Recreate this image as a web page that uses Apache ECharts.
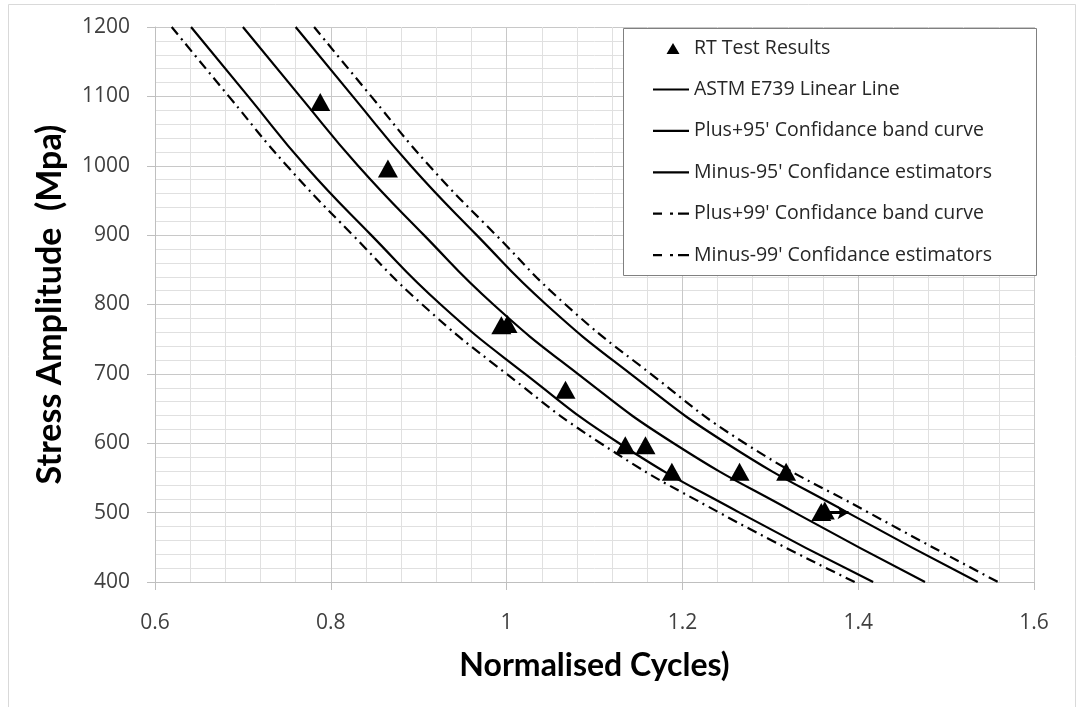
<!DOCTYPE html>
<html>
<head>
<meta charset="utf-8">
<script src="https://cdn.jsdelivr.net/npm/echarts@6/dist/echarts.min.js"></script>
<style>
html,body{margin:0;padding:0;background:#fff;}
#chart{width:1080px;height:707px;}
</style>
</head>
<body>
<div id="chart"></div>
<script>
// Stress levels (MPa) at which each curve was read
const stressLevels = [1200, 1100, 1000, 900, 800, 700, 600, 500, 400];
// Normalised cycles for each curve at those stress levels
const astmLinear   = [0.700, 0.765, 0.831, 0.906, 0.985, 1.081, 1.190, 1.328, 1.476];
const plus95       = [0.760, 0.825, 0.891, 0.966, 1.045, 1.141, 1.250, 1.388, 1.536];
const minus95      = [0.641, 0.706, 0.771, 0.846, 0.925, 1.021, 1.128, 1.265, 1.417];
const plus99       = [0.781, 0.846, 0.912, 0.988, 1.067, 1.164, 1.271, 1.412, 1.559];
const minus99      = [0.619, 0.684, 0.750, 0.825, 0.904, 1.000, 1.107, 1.242, 1.396];
// RT test results
const testCycles   = [0.788, 0.865, 0.994, 1.001, 1.067, 1.135, 1.158, 1.188, 1.265, 1.318, 1.358, 1.362];
const testStress   = [1092, 996, 770, 772, 677, 597, 597, 559, 559, 559, 501, 503];
// Run-out arrow
const runoutX = [1.362, 1.389];
const runoutY = [500, 500];

const xTicks = { min: 0.6, max: 1.6, interval: 0.2 };
const yTicks = { min: 400, max: 1200, interval: 100 };

const names = [
  'RT Test Results',
  'ASTM E739 Linear Line',
  "Plus+95' Confidance band curve",
  "Minus-95' Confidance estimators",
  "Plus+99' Confidance band curve",
  "Minus-99' Confidance estimators"
];

function curve(arr) { return stressLevels.map((s, i) => [arr[i], s]); }

const dashDot = [10, 5, 2, 5];
function lineSeries(name, arr, dash) {
  return {
    name: name, type: 'line', data: curve(arr), smooth: 0.5,
    symbol: 'none', showSymbol: false, z: 2,
    lineStyle: { color: '#000', width: 2.2, type: dash ? dashDot : 'solid' },
    itemStyle: { color: '#000' }
  };
}

const solidIcon = 'path://M0,6h36v2.2h-36z M0,0h0.01v0.01h-0.01z M36,14h-0.01v-0.01h0.01z';
const dashDotIcon = 'path://M0,6h9v2.2h-9z M17,6h3v2.2h-3z M25,6h11v2.2h-11z M0,0h0.01v0.01h-0.01z M36,14h-0.01v-0.01h0.01z';
const triIcon = 'path://M20,2L26.5,13L13.5,13Z M0,0h0.01v0.01h-0.01z M36,14h-0.01v-0.01h0.01z';

const chart = echarts.init(document.getElementById('chart'));
chart.setOption({
  animation: false,
  backgroundColor: '#fff',
  grid: { left: 155, right: 46, top: 27, bottom: 125 },
  graphic: [
    { type: 'rect', shape: { x: 8.5, y: 4.5, width: 1067, height: 740 },
      style: { fill: 'none', stroke: '#d9d9d9', lineWidth: 1 }, z: 0, silent: true },
    { type: 'rect', shape: { x: 623.5, y: 28.5, width: 413, height: 247 },
      style: { fill: '#fff', stroke: '#808080', lineWidth: 1 }, z: 3, silent: true }
  ],
  legend: {
    orient: 'vertical', left: 623, top: 28,
    padding: [10, 10, 10, 30],
    itemWidth: 36, itemHeight: 14, itemGap: 21.4,
    z: 5,
    textStyle: { fontFamily: 'Open Sans', fontSize: 19.5, color: '#262626', lineHeight: 20 },
    data: names.map((n, i) => ({
      name: n,
      icon: i === 0 ? triIcon : (i >= 4 ? dashDotIcon : solidIcon),
      itemStyle: { color: '#000', opacity: 1 }
    }))
  },
  xAxis: {
    type: 'value', min: xTicks.min, max: xTicks.max, interval: xTicks.interval,
    name: 'Normalised Cycles)', nameLocation: 'middle', nameGap: 68,
    nameTextStyle: { fontFamily: 'Lato', fontWeight: 'bold', fontSize: 32, color: '#000' },
    axisLine: { show: true, onZero: false, lineStyle: { color: '#bfbfbf', width: 1 } },
    axisTick: { show: true, length: 8, lineStyle: { color: '#bfbfbf' } },
    axisLabel: { margin: 31, fontFamily: 'Open Sans', fontSize: 21, color: '#404040',
      formatter: v => String(+v.toFixed(1)) },
    splitLine: { show: true, lineStyle: { color: '#c8c8c8', width: 1 } },
    minorTick: { show: false, splitNumber: 5 },
    minorSplitLine: { show: true, lineStyle: { color: '#e0e0e0', width: 1 } }
  },
  yAxis: {
    type: 'value', min: yTicks.min, max: yTicks.max, interval: yTicks.interval,
    name: 'Stress Amplitude  (Mpa)', nameLocation: 'middle', nameGap: 88,
    nameTextStyle: { fontFamily: 'Lato', fontWeight: 'bold', fontSize: 34, color: '#000' },
    axisLine: { show: true, lineStyle: { color: '#bfbfbf', width: 1 } },
    axisTick: { show: true, length: 8, lineStyle: { color: '#bfbfbf' } },
    axisLabel: { margin: 25, fontFamily: 'Open Sans', fontSize: 21, color: '#404040',
      formatter: v => String(v) },
    splitLine: { show: true, lineStyle: { color: '#c8c8c8', width: 1 } },
    minorTick: { show: false, splitNumber: 5 },
    minorSplitLine: { show: true, lineStyle: { color: '#e0e0e0', width: 1 } }
  },
  series: [
    {
      name: names[0], type: 'scatter', z: 3,
      data: testCycles.map((x, i) => [x, testStress[i]]),
      symbol: 'triangle', symbolSize: [20, 18],
      itemStyle: { color: '#000', opacity: 1 },
      markLine: {
        silent: true, animation: false,
        symbol: ['none', 'arrow'], symbolSize: [10, 11],
        label: { show: false },
        lineStyle: { color: '#000', width: 3, type: 'solid', opacity: 1 },
        data: [[
          { coord: [runoutX[0], runoutY[0]] },
          { coord: [runoutX[1], runoutY[1]] }
        ]]
      }
    },
    lineSeries(names[1], astmLinear, false),
    lineSeries(names[2], plus95, false),
    lineSeries(names[3], minus95, false),
    lineSeries(names[4], plus99, true),
    lineSeries(names[5], minus99, true)
  ]
});
</script>
</body>
</html>
